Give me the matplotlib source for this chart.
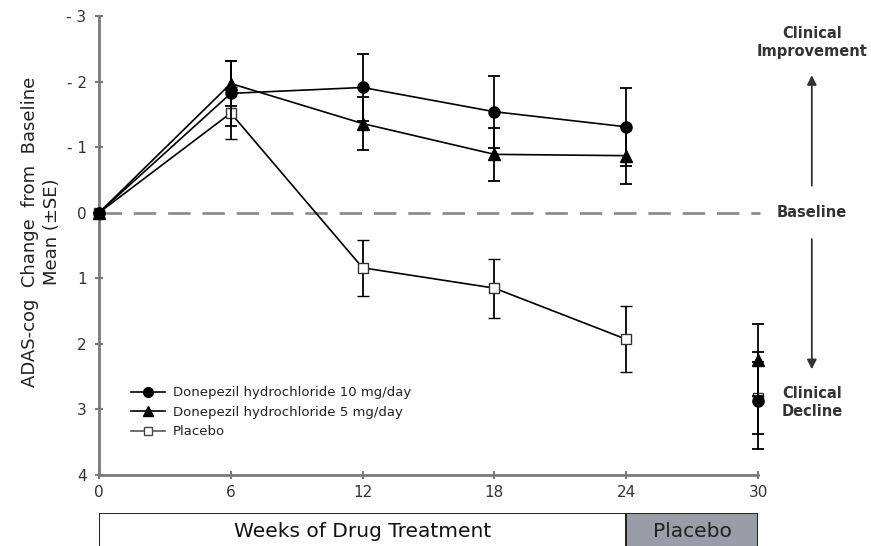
import matplotlib
matplotlib.use("Agg")
import matplotlib.pyplot as plt
from matplotlib.patches import Rectangle
from matplotlib.ticker import FuncFormatter
from matplotlib.lines import Line2D

plt.rcParams['font.family'] = ['DejaVu Sans']

# ---- data ----
weeks = [0, 6, 12, 18, 24]
d10 = [0, -1.82, -1.91, -1.54, -1.31]
d10_se = [0, 0.50, 0.51, 0.55, 0.59]
d5 = [0, -1.97, -1.36, -0.89, -0.87]
d5_se = [0, 0.34, 0.40, 0.40, 0.43]
plc = [0, -1.52, 0.84, 1.15, 1.93]
plc_se = [0, 0.39, 0.43, 0.45, 0.50]

week_off = [30]
d10_off = [2.87]
d10_off_se = [0.74]
d5_off = [2.25]
d5_off_se = [0.55]
plc_off = [2.82]
plc_off_se = [0.55]

xticks = [0, 6, 12, 18, 24, 30]
yticks = [-3, -2, -1, 0, 1, 2, 3, 4]
labels = ['Donepezil hydrochloride 10 mg/day',
          'Donepezil hydrochloride 5 mg/day',
          'Placebo']

W, H = 871, 546
fig = plt.figure(figsize=(W / 100, H / 100), dpi=100)
ax = fig.add_axes([99 / W, (H - 475) / H, (758 - 99) / W, (475 - 16) / H])

ax.set_xlim(0, 30)
ax.set_ylim(4, -3)

spine_col = '#7a7a7a'
for s in ['top', 'right']:
    ax.spines[s].set_visible(False)
for s in ['left', 'bottom']:
    ax.spines[s].set_color(spine_col)
    ax.spines[s].set_linewidth(2.0)

ax.set_xticks(xticks)
ax.set_yticks(yticks)
ax.yaxis.set_major_formatter(FuncFormatter(lambda v, p: ('- %d' % abs(v)) if v < 0 else '%d' % v))
ax.tick_params(axis='both', direction='inout', length=6, width=1.5, color=spine_col,
               labelsize=11, labelcolor='#333333')
ax.tick_params(axis='x', pad=4)
ax.tick_params(axis='y', pad=6)

# baseline dashed line
ax.plot([0, 30.1], [0, 0], ls=(0, (8.5, 4.5)), color='#888888', lw=1.9, clip_on=False, zorder=1)

ek = dict(ecolor='black', elinewidth=1.3, capsize=4.5, capthick=1.3, clip_on=False)
ax.errorbar(weeks, plc, yerr=plc_se, color='black', lw=1.2, marker='s', ms=7.5,
            mfc='white', mec='#333333', mew=1.0, zorder=3, **ek)
ax.errorbar(weeks, d5, yerr=d5_se, color='black', lw=1.2, marker='^', ms=8,
            mfc='black', mec='black', zorder=4, **ek)
ax.errorbar(weeks, d10, yerr=d10_se, color='black', lw=1.2, marker='o', ms=8,
            mfc='black', mec='black', zorder=5, **ek)

ax.errorbar(week_off, plc_off, yerr=plc_off_se, ls='none', marker='s', ms=7.5,
            mfc='white', mec='#333333', zorder=3, **ek)
ax.errorbar(week_off, d5_off, yerr=d5_off_se, ls='none', marker='^', ms=8,
            mfc='black', mec='black', zorder=4, **ek)
ax.errorbar(week_off, d10_off, yerr=d10_off_se, ls='none', marker='o', ms=8,
            mfc='black', mec='black', zorder=5, **ek)

# legend
handles = [Line2D([], [], color='black', lw=1.2, marker='o', ms=7, mfc='black'),
           Line2D([], [], color='black', lw=1.2, marker='^', ms=7, mfc='black'),
           Line2D([], [], color='#555555', lw=1.2, marker='s', ms=6, mfc='white', mec='#444444')]
leg = ax.legend(handles, labels, loc='upper left', bbox_to_anchor=(0.04, 0.205),
                frameon=False, fontsize=9.5, handlelength=2.6, handletextpad=0.6,
                labelspacing=0.5, borderaxespad=0)
for t in leg.get_texts():
    t.set_color('#222222')

# y label
fig.text(41 / W, 1 - 232 / H, 'ADAS-cog  Change  from  Baseline\nMean (\u00b1SE)',
         rotation=90, ha='center', va='center', multialignment='center',
         fontsize=13, color='#222222', linespacing=1.25)

# right annotations
xa = 32.45
ax.text(xa, -2.6, 'Clinical\nImprovement', ha='center', va='center', fontsize=10.5,
        fontweight='bold', color='#333333', clip_on=False, linespacing=1.25)
ax.annotate('', xy=(xa, -2.14), xytext=(xa, -0.37),
            arrowprops=dict(arrowstyle='-|>', color='#333333', lw=1.3, mutation_scale=14),
            annotation_clip=False)
ax.text(xa, 0, 'Baseline', ha='center', va='center', fontsize=10.5,
        fontweight='bold', color='#333333', clip_on=False)
ax.annotate('', xy=(xa, 2.43), xytext=(xa, 0.36),
            arrowprops=dict(arrowstyle='-|>', color='#333333', lw=1.3, mutation_scale=14),
            annotation_clip=False)
ax.text(xa, 2.9, 'Clinical\nDecline', ha='center', va='center', fontsize=10.5,
        fontweight='bold', color='#333333', clip_on=False, linespacing=1.25)

# bottom bar
bax = fig.add_axes([99 / W, -0.02, (758 - 99) / W, (546 - 513) / H + 0.02])
bax.set_xlim(0, 30)
bax.set_ylim(0, 1)
bax.axis('off')
bax.add_patch(Rectangle((0, 0), 24, 1, facecolor='white', edgecolor='#222222', lw=1.4))
bax.add_patch(Rectangle((24, 0), 6, 1, facecolor='#9a9ca6', edgecolor='#222222', lw=1.4))
fig.text((99 + 12 * 659 / 30) / W, 1 - 537 / H, 'Weeks of Drug Treatment',
         ha='center', va='baseline', fontsize=14.5, color='#111111')
fig.text((99 + 27 * 659 / 30) / W, 1 - 537 / H, 'Placebo',
         ha='center', va='baseline', fontsize=14.5, color='#222222')

fig.savefig('out.png', dpi=100)
